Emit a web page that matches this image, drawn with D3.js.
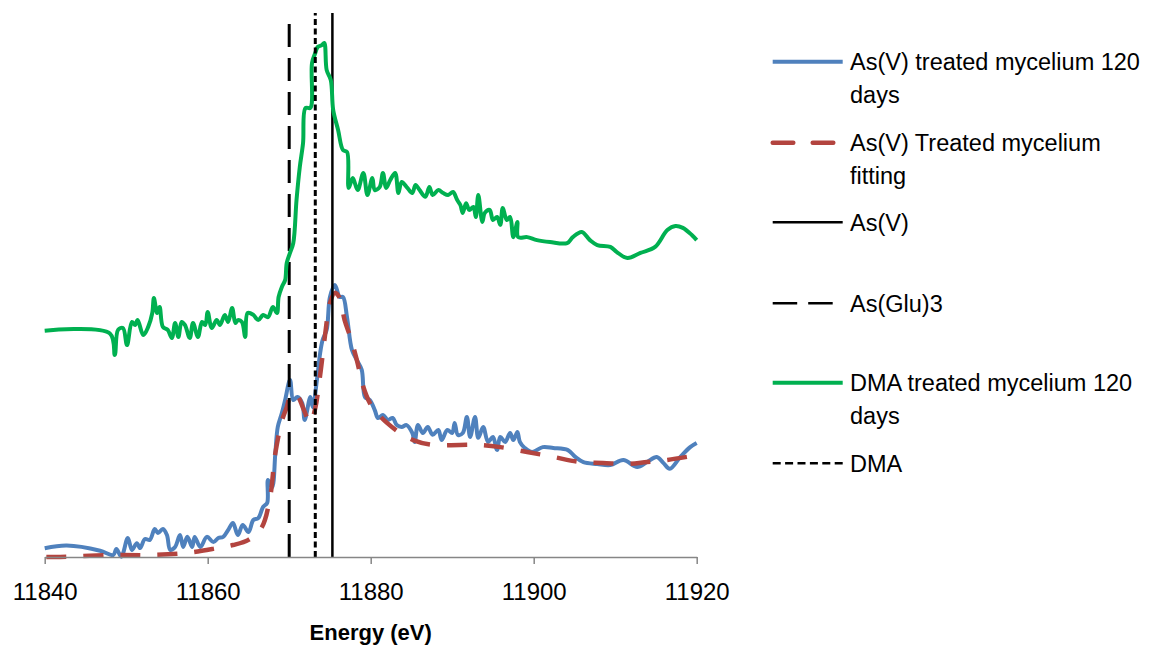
<!DOCTYPE html>
<html>
<head>
<meta charset="utf-8">
<script src="https://cdn.jsdelivr.net/npm/d3@7"></script>
<style>
  html, body { margin: 0; padding: 0; background: #ffffff; }
  svg { display: block; }
  text { font-family: "Liberation Sans", Arial, sans-serif; fill: #000; }
</style>
</head>
<body>
<svg id="chart" width="1153" height="647"></svg>
<script>
// ---------- DATA ----------
const xTicks = [11840, 11860, 11880, 11900, 11920];
const xTitle = "Energy (eV)";

// As(V) treated mycelium 120 days : [energy eV, normalized absorbance]
const asVTreated = [
  [11840.0,0.032],[11842.7,0.042],[11846.8,0.023],[11848.4,0.007],[11848.8,0.029],[11849.4,0.001],
  [11850.2,0.070],[11850.7,0.026],[11851.3,0.051],[11851.7,0.033],[11852.3,0.066],[11852.9,0.063],
  [11853.5,0.103],[11853.9,0.088],[11854.5,0.103],[11855.0,0.081],[11855.4,0.026],[11856.0,0.037],
  [11856.6,0.081],[11857.0,0.037],[11857.5,0.074],[11858.1,0.037],[11858.4,0.074],[11859.1,0.037],
  [11859.9,0.074],[11860.7,0.055],[11861.3,0.070],[11861.9,0.074],[11862.5,0.099],[11863.1,0.125],
  [11863.7,0.081],[11864.3,0.118],[11865.0,0.092],[11865.6,0.136],[11866.2,0.143],[11866.8,0.184],
  [11867.3,0.199],[11867.4,0.283],[11867.9,0.257],[11868.3,0.382],[11868.6,0.478],[11869.1,0.529],
  [11869.5,0.577],[11870.1,0.651],[11870.5,0.577],[11871.0,0.588],[11871.6,0.566],[11871.9,0.504],
  [11872.6,0.588],[11872.9,0.551],[11873.4,0.651],[11873.8,0.750],[11874.1,0.798],[11874.6,0.835],
  [11875.0,0.956],[11875.6,1.000],[11876.2,0.956],[11876.6,0.956],[11877.1,0.880],[11877.7,0.761],
  [11878.3,0.724],[11878.9,0.688],[11879.3,0.588],[11879.9,0.577],[11880.5,0.540],[11880.9,0.511],
  [11881.5,0.522],[11882.1,0.504],[11882.7,0.511],[11883.2,0.485],[11883.8,0.478],[11884.4,0.485],
  [11885.1,0.456],[11885.4,0.423],[11885.8,0.485],[11886.4,0.456],[11887.0,0.478],[11887.6,0.449],
  [11888.3,0.467],[11888.7,0.430],[11889.4,0.467],[11890.0,0.456],[11890.3,0.493],[11890.7,0.449],
  [11891.3,0.456],[11891.8,0.515],[11892.2,0.441],[11892.8,0.515],[11893.2,0.438],[11893.8,0.478],
  [11894.4,0.423],[11895.0,0.441],[11895.5,0.393],[11895.9,0.441],[11896.5,0.423],[11897.1,0.456],
  [11897.5,0.430],[11898.0,0.460],[11898.3,0.423],[11898.9,0.401],[11899.8,0.386],[11901.1,0.404],
  [11902.4,0.401],[11904.2,0.393],[11905.1,0.368],[11906.1,0.349],[11907.8,0.342],[11909.4,0.338],
  [11911.0,0.357],[11912.7,0.331],[11913.9,0.349],[11915.1,0.368],[11915.9,0.346],[11916.7,0.324],
  [11918.0,0.368],[11919.2,0.404],[11920.0,0.419]
];

// As(V) Treated mycelium fitting
const asVFitting = [
  [11840.2,0.000],[11841.9,0.000],[11848.0,0.007],[11852.9,0.007],[11857.5,0.015],[11861.2,0.033],
  [11863.1,0.044],[11865.0,0.063],[11866.6,0.107],[11867.6,0.210],[11868.3,0.382],[11869.1,0.500],
  [11869.7,0.551],[11870.3,0.603],[11871.1,0.588],[11871.7,0.548],[11872.6,0.493],[11873.2,0.548],
  [11873.8,0.669],[11874.4,0.816],[11875.0,0.934],[11875.6,0.971],[11876.2,0.952],[11876.8,0.871],
  [11877.5,0.809],[11878.3,0.724],[11879.1,0.625],[11879.9,0.566],[11880.8,0.529],[11882.0,0.493],
  [11883.6,0.456],[11885.2,0.430],[11887.6,0.412],[11890.9,0.412],[11893.4,0.412],[11895.9,0.404],
  [11899.2,0.386],[11902.4,0.368],[11905.7,0.349],[11908.5,0.346],[11911.5,0.342],[11913.9,0.349],
  [11916.4,0.357],[11918.8,0.368]
];

// DMA treated mycelium 120 days
const dmaTreated = [
  [11840.0,0.832],[11848.0,0.822],[11848.6,0.743],[11849.0,0.835],[11849.6,0.842],[11850.1,0.779],
  [11850.7,0.864],[11851.1,0.853],[11851.4,0.871],[11852.1,0.816],[11852.7,0.846],[11853.2,0.897],
  [11853.4,0.952],[11853.8,0.897],[11854.1,0.919],[11854.5,0.846],[11855.1,0.835],[11855.6,0.805],
  [11856.0,0.860],[11856.4,0.809],[11856.8,0.864],[11857.2,0.853],[11857.8,0.805],[11858.2,0.860],
  [11858.8,0.809],[11859.3,0.864],[11859.7,0.853],[11860.0,0.901],[11860.5,0.842],[11861.1,0.871],
  [11861.5,0.853],[11862.1,0.890],[11862.5,0.864],[11863.0,0.915],[11863.4,0.860],[11863.7,0.871],
  [11864.2,0.864],[11864.6,0.809],[11864.9,0.897],[11865.6,0.890],[11866.2,0.871],[11866.8,0.890],
  [11867.4,0.882],[11868.0,0.919],[11868.5,0.897],[11868.7,0.956],[11869.1,0.993],[11869.5,1.018],
  [11869.7,1.081],[11870.1,1.118],[11870.5,1.154],[11870.9,1.313],[11871.3,1.434],[11871.7,1.522],
  [11872.0,1.651],[11872.6,1.651],[11872.8,1.816],[11873.2,1.853],[11873.5,1.875],[11874.0,1.882],
  [11874.3,1.890],[11874.6,1.790],[11875.1,1.754],[11875.4,1.643],[11876.0,1.570],[11876.6,1.496],
  [11877.1,1.489],[11877.3,1.357],[11877.8,1.393],[11878.4,1.349],[11879.1,1.412],[11879.6,1.331],
  [11880.2,1.393],[11880.5,1.349],[11881.1,1.360],[11881.5,1.412],[11881.9,1.357],[11882.4,1.386],
  [11883.0,1.412],[11883.4,1.338],[11883.8,1.379],[11884.5,1.357],[11885.1,1.338],[11885.5,1.368],
  [11886.0,1.349],[11886.7,1.324],[11887.2,1.360],[11887.6,1.331],[11888.3,1.349],[11888.9,1.338],
  [11889.5,1.331],[11890.1,1.342],[11890.6,1.313],[11891.0,1.294],[11891.3,1.265],[11891.7,1.301],
  [11892.1,1.276],[11892.6,1.287],[11892.9,1.250],[11893.2,1.331],[11893.7,1.232],[11894.0,1.265],
  [11894.6,1.276],[11895.0,1.239],[11895.5,1.250],[11895.9,1.221],[11896.2,1.283],[11896.7,1.239],
  [11897.1,1.250],[11897.5,1.176],[11898.0,1.232],[11898.1,1.176],[11899.2,1.176],[11900.4,1.165],
  [11902.0,1.158],[11904.1,1.154],[11904.8,1.176],[11905.9,1.195],[11906.9,1.165],[11907.8,1.147],
  [11909.4,1.140],[11910.2,1.121],[11911.5,1.099],[11913.1,1.118],[11914.9,1.140],[11916.4,1.202],
  [11917.4,1.217],[11918.3,1.210],[11919.4,1.184],[11920.0,1.165]
];

// Reference edge energies (vertical lines)
const refNames    = ["As(V)", "As(Glu)3", "DMA"];
const refEnergies = [11875.3, 11870.0, 11873.2];
const refRange    = [0, 2];

const legendLabels = [
  ["As(V) treated mycelium 120", "days"],
  ["As(V) Treated mycelium", "fitting"],
  ["As(V)"],
  ["As(Glu)3"],
  ["DMA treated mycelium 120", "days"],
  ["DMA"]
];

// ---------- CHART ----------
const svg = d3.select("#chart");
const x = d3.scaleLinear().domain([11840, 11920]).range([44.7, 696.7]);
const y = d3.scaleLinear().domain([0, 2]).range([557, 13]);

const styles = [
  { color: "#4F81BD", width: 4,   dash: null },
  { color: "#B3443F", width: 4.5, dash: "20,17" },
  { color: "#000000", width: 2.5, dash: null },
  { color: "#000000", width: 3,   dash: "23,11" },
  { color: "#00B050", width: 4,   dash: null },
  { color: "#000000", width: 3,   dash: "6,3.5" }
];

const line = d3.line().x(d => x(d[0])).y(d => y(d[1])).curve(d3.curveCatmullRom.alpha(0.5));

const plot = svg.append("g");

function drawSeries(data, st) {
  plot.append("path").datum(data)
    .attr("d", line)
    .attr("fill", "none")
    .attr("stroke", st.color)
    .attr("stroke-width", st.width)
    .attr("stroke-linejoin", "round")
    .attr("stroke-dasharray", st.dash);
}
function drawRef(energy, st) {
  plot.append("path").datum(refRange.map(v => [energy, v]))
    .attr("d", d3.line().x(d => x(d[0])).y(d => y(d[1])))
    .attr("fill", "none")
    .attr("stroke", st.color)
    .attr("stroke-width", st.width)
    .attr("stroke-dasharray", st.dash);
}

drawSeries(asVTreated, styles[0]);
drawSeries(asVFitting, styles[1]);
drawRef(refEnergies[0], styles[2]);
drawRef(refEnergies[1], styles[3]);
drawSeries(dmaTreated, styles[4]);
drawRef(refEnergies[2], styles[5]);

// X axis
const ax = svg.append("g").attr("transform", `translate(0,${y(0)})`)
  .call(d3.axisBottom(x).tickValues(xTicks).tickSize(7).tickSizeOuter(0).tickFormat(d3.format("d")));
ax.select(".domain").attr("stroke", "#868686").attr("stroke-width", 1.5);
ax.selectAll(".tick line").attr("stroke", "#868686").attr("stroke-width", 1.5);
ax.selectAll(".tick text")
  .attr("y", 43).attr("dy", null)
  .style("font-family", '"Liberation Sans", Arial, sans-serif')
  .style("font-size", "24px").attr("fill", "#000");

svg.append("text")
  .attr("x", (x.range()[0] + x.range()[1]) / 2)
  .attr("y", 640)
  .attr("text-anchor", "middle")
  .style("font-size", "22px").style("font-weight", "bold")
  .text(xTitle);

// Legend
const legendY = [61.7, 142.7, 222.3, 303.3, 382.7, 463.3];
const legendDash = [null, "20.6,19.4", null, "24.5,11", null, "8,4.4"];
const legendLen = [70, 61.3, 70, 60, 70, 70];
const lg = svg.append("g");
legendLabels.forEach((lab, i) => {
  const st = styles[i];
  lg.append("line")
    .attr("x1", 772.7).attr("x2", 772.7 + legendLen[i])
    .attr("y1", legendY[i]).attr("y2", legendY[i])
    .attr("stroke", st.color)
    .attr("stroke-width", i === 1 ? 4.5 : (i === 2 ? 2.5 : (i === 3 || i === 5 ? 2.5 : 4)))
    .attr("stroke-linecap", i === 1 ? "round" : "butt")
    .attr("stroke-dasharray", legendDash[i]);
  const t = lg.append("text")
    .attr("x", 850).attr("y", legendY[i] + 8.3)
    .style("font-size", "23.5px");
  lab.forEach((s, j) => {
    t.append("tspan").attr("x", 850).attr("dy", j === 0 ? 0 : 32.5).text(s);
  });
});
</script>
</body>
</html>
